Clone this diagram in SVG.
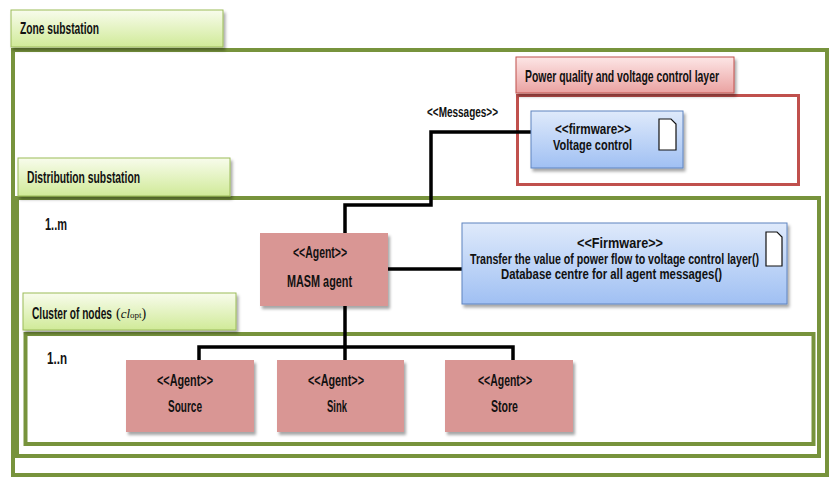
<svg xmlns="http://www.w3.org/2000/svg" width="840" height="488" viewBox="0 0 840 488">
<defs>
  <linearGradient id="gTab" x1="0" y1="0" x2="0" y2="1">
    <stop offset="0" stop-color="#f8fcec"/>
    <stop offset="1" stop-color="#d0ea98"/>
  </linearGradient>
  <linearGradient id="rTab" x1="0" y1="0" x2="0" y2="1">
    <stop offset="0" stop-color="#fde6e6"/>
    <stop offset="1" stop-color="#eaa2a1"/>
  </linearGradient>
  <linearGradient id="bBox" x1="0" y1="0" x2="0" y2="1">
    <stop offset="0" stop-color="#dfeafb"/>
    <stop offset="1" stop-color="#a0c0f3"/>
  </linearGradient>
  <filter id="sh" x="-10%" y="-10%" width="130%" height="140%">
    <feDropShadow dx="2" dy="3" stdDeviation="1.5" flood-color="#000" flood-opacity="0.35"/>
  </filter>
</defs>
<style>
  .frame{fill:none;stroke:#77933c;stroke-width:4}
  .rframe{fill:none;stroke:#c0504d;stroke-width:3}
  .tab{fill:url(#gTab);stroke:#9bbb59;stroke-width:1}
  .rtab{fill:url(#rTab);stroke:#c0504d;stroke-width:1}
  .agent{fill:#d99694}
  .fw{fill:url(#bBox);stroke:#5f84c0;stroke-width:1}
  .doc{fill:#fff;stroke:#111;stroke-width:1.2}
  .conn{fill:none;stroke:#000;stroke-width:3.5}
  .t{font-family:"Liberation Sans",Arial,sans-serif;font-weight:bold;fill:#111;font-size:16.5px}
  .a{font-size:16px}
  .s{font-size:14.5px}
  .serif{font-family:"Liberation Serif","Times New Roman",serif;font-weight:normal;fill:#111;font-size:14px}
</style>
<rect x="0" y="0" width="840" height="488" fill="#fff"/>

<g id="zone-substation">
  <rect class="frame" x="13" y="50" width="814" height="425"/>
  <rect class="tab" x="11" y="10" width="212" height="37" filter="url(#sh)"/>
  <text class="t" x="20" y="34" textLength="79" lengthAdjust="spacingAndGlyphs">Zone substation</text>
</g>

<g id="power-quality-layer">
  <rect class="rframe" x="517.5" y="95.5" width="281" height="89"/>
  <rect class="rtab" x="516" y="57" width="218" height="36" filter="url(#sh)"/>
  <text class="t" x="525" y="82" textLength="194" lengthAdjust="spacingAndGlyphs">Power quality and voltage control layer</text>
</g>

<g id="distribution-substation">
  <rect class="frame" x="17" y="198" width="802" height="258"/>
  <rect class="tab" x="18" y="158" width="212" height="38" filter="url(#sh)"/>
  <text class="t" x="27" y="183" textLength="113" lengthAdjust="spacingAndGlyphs">Distribution substation</text>
  <text class="t a" x="45" y="230" textLength="22" lengthAdjust="spacingAndGlyphs">1..m</text>
</g>

<g id="cluster-of-nodes">
  <rect class="frame" x="25.5" y="334" width="788" height="110"/>
  <rect class="tab" x="23" y="293" width="213" height="37" filter="url(#sh)"/>
  <text class="t" x="32" y="319" textLength="80" lengthAdjust="spacingAndGlyphs">Cluster of nodes</text>
  <text class="serif" x="116" y="318">(<tspan font-style="italic" font-size="13">cl</tspan><tspan font-size="9">opt</tspan>)</text>
  <text class="t a" x="47" y="364" textLength="20" lengthAdjust="spacingAndGlyphs">1..n</text>
</g>

<g id="connectors">
  <path class="conn" d="M531,132 H431 V205 H345 V233"/>
  <path class="conn" d="M388,269 H462"/>
  <path class="conn" d="M345,306 V360"/>
  <path class="conn" d="M199,360 V347 H513 V360"/>
  <text class="t s" x="427" y="117" textLength="71" lengthAdjust="spacingAndGlyphs">&lt;&lt;Messages&gt;&gt;</text>
</g>

<g id="voltage-control">
  <rect class="fw" x="531" y="111" width="152" height="57" filter="url(#sh)"/>
  <path class="doc" d="M659,119 H671 L676,124 V150 H659 Z"/>
  <text class="t s" x="555" y="134" textLength="76" lengthAdjust="spacingAndGlyphs">&lt;&lt;firmware&gt;&gt;</text>
  <text class="t s" x="553" y="150" textLength="79" lengthAdjust="spacingAndGlyphs">Voltage control</text>
</g>

<g id="masm-firmware">
  <rect class="fw" x="462" y="223" width="325" height="81" filter="url(#sh)"/>
  <path class="doc" d="M766,232 H777 L782,237 V266 H766 Z"/>
  <text class="t s" x="577" y="248" textLength="86" lengthAdjust="spacingAndGlyphs">&lt;&lt;Firmware&gt;&gt;</text>
  <text class="t s" x="470" y="264" textLength="289" lengthAdjust="spacingAndGlyphs">Transfer the value of power flow to voltage control layer()</text>
  <text class="t s" x="501" y="279" textLength="221" lengthAdjust="spacingAndGlyphs">Database centre for all agent messages()</text>
</g>

<g id="masm-agent">
  <rect class="agent" x="260" y="233" width="128" height="73" filter="url(#sh)"/>
  <text class="t a" x="293" y="258" textLength="54" lengthAdjust="spacingAndGlyphs">&lt;&lt;Agent&gt;&gt;</text>
  <text class="t a" x="287" y="287" textLength="65" lengthAdjust="spacingAndGlyphs">MASM agent</text>
</g>

<g id="source-agent">
  <rect class="agent" x="126" y="360" width="128" height="72" filter="url(#sh)"/>
  <text class="t a" x="157" y="386" textLength="56" lengthAdjust="spacingAndGlyphs">&lt;&lt;Agent&gt;&gt;</text>
  <text class="t a" x="168" y="412" textLength="34" lengthAdjust="spacingAndGlyphs">Source</text>
</g>

<g id="sink-agent">
  <rect class="agent" x="277" y="360" width="127" height="72" filter="url(#sh)"/>
  <text class="t a" x="308" y="386" textLength="56" lengthAdjust="spacingAndGlyphs">&lt;&lt;Agent&gt;&gt;</text>
  <text class="t a" x="327" y="412" textLength="20" lengthAdjust="spacingAndGlyphs">Sink</text>
</g>

<g id="store-agent">
  <rect class="agent" x="445" y="360" width="128" height="72" filter="url(#sh)"/>
  <text class="t a" x="478" y="386" textLength="54" lengthAdjust="spacingAndGlyphs">&lt;&lt;Agent&gt;&gt;</text>
  <text class="t a" x="491" y="412" textLength="27" lengthAdjust="spacingAndGlyphs">Store</text>
</g>
</svg>
